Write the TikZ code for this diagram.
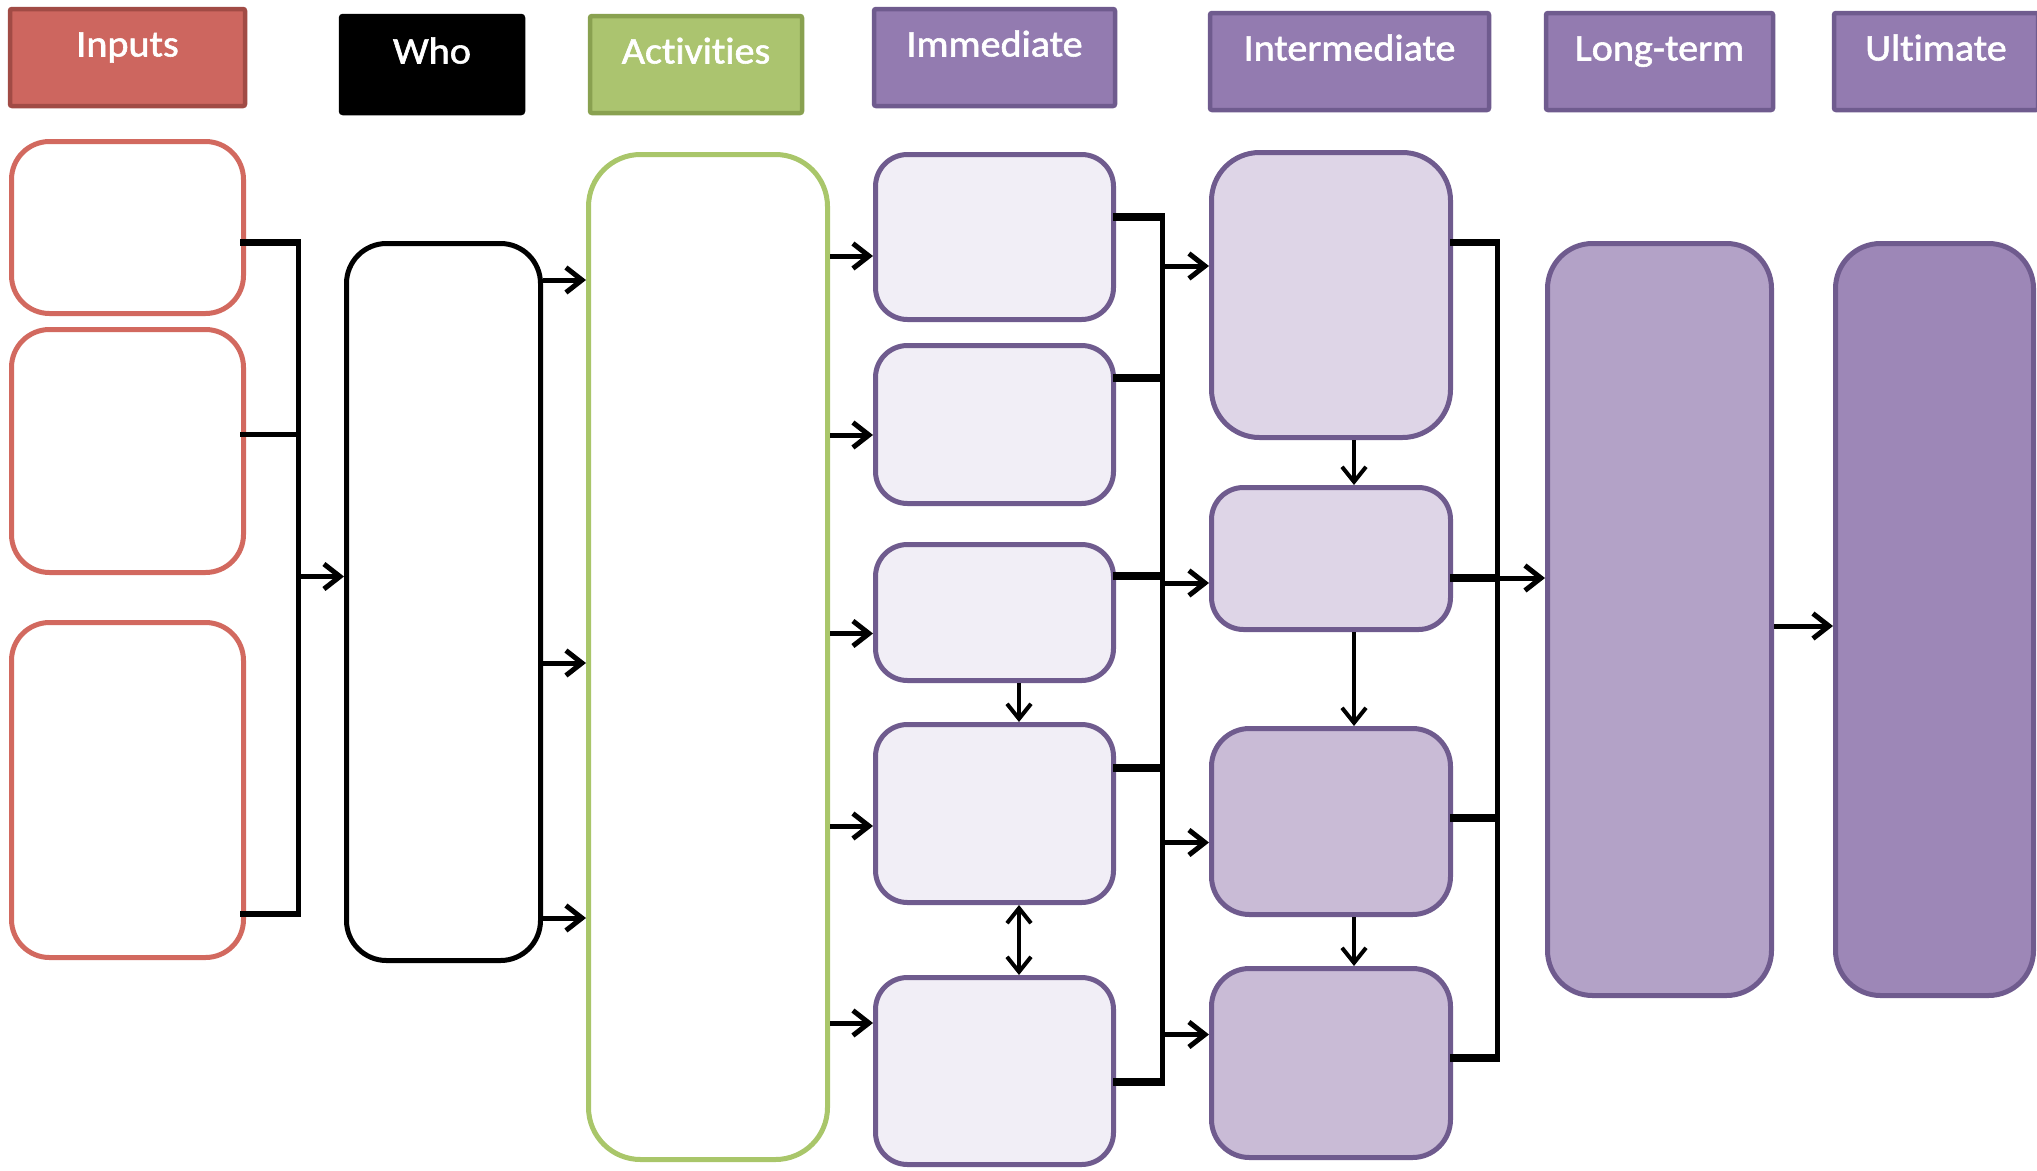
\documentclass[tikz,border=0pt]{standalone}
\usepackage{fontspec}
\setmainfont{Carlito}[Ligatures=NoCommon]
\newfontfamily\hdfont{Carlito}[Ligatures=NoCommon, FakeBold=1.5]
\usetikzlibrary{arrows.meta}
\definecolor{redfill}{HTML}{CD665F}
\definecolor{redline}{HTML}{A14B45}
\definecolor{redbox}{HTML}{D2695F}
\definecolor{grnfill}{HTML}{ABC46F}
\definecolor{grnline}{HTML}{89A150}
\definecolor{grnbox}{HTML}{A9C66A}
\definecolor{purfill}{HTML}{937BB0}
\definecolor{purline}{HTML}{6F5B8E}
\definecolor{immfill}{HTML}{F1EEF6}
\definecolor{intfillA}{HTML}{DED5E7}
\definecolor{intfillB}{HTML}{C9BBD6}
\definecolor{ltfill}{HTML}{B3A2C7}
\definecolor{ultfill}{HTML}{9D87B7}
\newcommand{\hdtext}[1]{\scalebox{1.07}[1]{#1}}
\tikzset{
  hdr/.style 2 args={draw=#1, fill=#2, line width=4.5pt, rounded corners=2pt,
    text=white, font=\hdfont\fontsize{37.5}{40}\selectfont, text height=24pt, text depth=26pt, inner sep=0pt},
  bx/.style={line width=5pt, rounded corners=#1, inner sep=0pt},
  bus/.style={line width=5pt},
  stub/.style={line width=#1},
  arr/.style={line width=5pt, -{Straight Barb[length=16pt,width=25pt]}},
  varr/.style={line width=4pt, -{Straight Barb[length=15pt,width=24pt]}},
  darr/.style={line width=4pt, {Straight Barb[length=15pt,width=24pt]}-{Straight Barb[length=15pt,width=24pt]}},
}
\begin{document}
\begin{tikzpicture}[x=1pt,y=-1pt]
\useasboundingbox (0,0) rectangle (2037,1170);

% headers
\node[hdr={redline}{redfill}, minimum width=235pt, minimum height=97pt] (hIn) at (127.5,57.5) {\hdtext{Inputs}};
\node[hdr={black}{black}, minimum width=182pt, minimum height=97pt] (hWho) at (432,64.5) {\hdtext{Who}};
\node[hdr={grnline}{grnfill}, minimum width=212pt, minimum height=97pt] (hAct) at (696,64.5) {\hdtext{Activities}};
\node[hdr={purline}{purfill}, minimum width=241pt, minimum height=97pt] (hImm) at (994.5,57.5) {\hdtext{Immediate}};
\node[hdr={purline}{purfill}, minimum width=279pt, minimum height=97pt] (hInt) at (1349.5,61.5) {\hdtext{Intermediate}};
\node[hdr={purline}{purfill}, minimum width=227pt, minimum height=97pt] (hLT) at (1659.5,61.5) {\hdtext{Long-term}};
\node[hdr={purline}{purfill}, minimum width=204pt, minimum height=97pt] (hUlt) at (1936,61.5) {\hdtext{Ultimate}};

% inputs
\node[bx=38pt, draw=redbox, fill=white, minimum width=232pt, minimum height=172pt] (in1) at (127.5,227.5) {};
\node[bx=38pt, draw=redbox, fill=white, minimum width=232pt, minimum height=243pt] (in2) at (127.5,451) {};
\node[bx=38pt, draw=redbox, fill=white, minimum width=232pt, minimum height=335pt] (in3) at (127.5,790) {};
% who
\node[bx=40pt, draw=black, fill=white, minimum width=194pt, minimum height=717pt] (who) at (443.5,602) {};
% activities
\node[bx=52pt, draw=grnbox, fill=white, minimum width=239pt, minimum height=1005pt] (act) at (708,657) {};
% immediate
\node[bx=32pt, draw=purline, fill=immfill, minimum width=238pt, minimum height=165pt] (imm1) at (994.5,237) {};
\node[bx=32pt, draw=purline, fill=immfill, minimum width=238pt, minimum height=158pt] (imm2) at (994.5,424.5) {};
\node[bx=32pt, draw=purline, fill=immfill, minimum width=238pt, minimum height=136pt] (imm3) at (994.5,612.5) {};
\node[bx=32pt, draw=purline, fill=immfill, minimum width=238pt, minimum height=178pt] (imm4) at (994.5,813.5) {};
\node[bx=32pt, draw=purline, fill=immfill, minimum width=238pt, minimum height=187pt] (imm5) at (994.5,1071) {};
% intermediate
\node[bx=48pt, draw=purline, fill=intfillA, minimum width=239pt, minimum height=285pt] (int1) at (1331,295) {};
\node[bx=32pt, draw=purline, fill=intfillA, minimum width=239pt, minimum height=142pt] (int2) at (1331,558.5) {};
\node[bx=38pt, draw=purline, fill=intfillB, minimum width=239pt, minimum height=186pt] (int3) at (1331,821.5) {};
\node[bx=38pt, draw=purline, fill=intfillB, minimum width=239pt, minimum height=189pt] (int4) at (1331,1063) {};
% long-term and ultimate
\node[bx=45pt, draw=purline, fill=ltfill, minimum width=224pt, minimum height=752pt] (lt) at (1659.5,619.5) {};
\node[bx=45pt, draw=purline, fill=ultfill, minimum width=198pt, minimum height=752pt] (ult) at (1934.5,619.5) {};

% input bus
\coordinate (ibT) at (298,242);
\coordinate (ibM) at (298,576.5);
\coordinate (ibB) at (298,914);
\draw[stub=7pt] ([xshift=-6pt]in1.east |- ibT) -- ([xshift=2.5pt]ibT);
\draw[stub=5pt] ([xshift=-6pt]in2.east |- 0,434) -- ([xshift=2.5pt]ibT |- 0,434);
\draw[stub=6pt] ([xshift=-6pt]in3.east |- ibB) -- ([xshift=2.5pt]ibB);
\draw[bus] (ibT) -- (ibB);
\draw[arr] (ibM) -- (ibM -| who.west);

% who -> activities
\draw[arr] (who.east |- 0,280) -- (act.west |- 0,280);
\draw[arr] (who.east |- 0,663) -- (act.west |- 0,663);
\draw[arr] (who.east |- 0,918) -- (act.west |- 0,918);

% activities -> immediate
\draw[arr] (act.east |- 0,256) -- (imm1.west |- 0,256);
\draw[arr] (act.east |- 0,435) -- (imm2.west |- 0,435);
\draw[arr] (act.east |- 0,633.5) -- (imm3.west |- 0,633.5);
\draw[arr] (act.east |- 0,826) -- (imm4.west |- 0,826);
\draw[arr] (act.east |- 0,1023) -- (imm5.west |- 0,1023);

% within immediate
\draw[varr] ([xshift=24.5pt]imm3.south) -- ([xshift=24.5pt]imm4.north);
\draw[darr] ([xshift=24.5pt]imm4.south) -- ([xshift=24.5pt]imm5.north);

% immediate bus
\coordinate (mbT) at (1162,217);
\coordinate (mbB) at (1162,1082);
\draw[stub=8pt] ([xshift=-3pt]imm1.east |- mbT) -- ([xshift=2.5pt]mbT);
\draw[stub=8pt] ([xshift=-3pt]imm2.east |- 0,378) -- ([xshift=2.5pt]mbT |- 0,378);
\draw[stub=8pt] ([xshift=-3pt]imm3.east |- 0,576) -- ([xshift=2.5pt]mbT |- 0,576);
\draw[stub=8pt] ([xshift=-3pt]imm4.east |- 0,768) -- ([xshift=2.5pt]mbT |- 0,768);
\draw[stub=8pt] ([xshift=-3pt]imm5.east |- mbB) -- ([xshift=2.5pt]mbB);
\draw[bus] (mbT) -- (mbB);
\draw[arr] (mbT |- 0,266) -- (int1.west |- 0,266);
\draw[arr] (mbT |- 0,583) -- (int2.west |- 0,583);
\draw[arr] (mbT |- 0,842.5) -- (int3.west |- 0,842.5);
\draw[arr] (mbT |- 0,1034.5) -- (int4.west |- 0,1034.5);

% within intermediate
\draw[varr] ([xshift=23pt]int1.south) -- ([xshift=23pt]int2.north);
\draw[varr] ([xshift=23pt]int2.south) -- ([xshift=23pt]int3.north);
\draw[varr] ([xshift=23pt]int3.south) -- ([xshift=23pt]int4.north);

% intermediate bus
\coordinate (nbT) at (1497,242.5);
\coordinate (nbB) at (1497,1058);
\draw[stub=6.5pt] ([xshift=-3pt]int1.east |- nbT) -- ([xshift=2.5pt]nbT);
\draw[stub=8pt] ([xshift=-3pt]int2.east |- 0,578) -- ([xshift=2.5pt]nbT |- 0,578);
\draw[stub=8pt] ([xshift=-3pt]int3.east |- 0,818) -- ([xshift=2.5pt]nbT |- 0,818);
\draw[stub=8pt] ([xshift=-3pt]int4.east |- nbB) -- ([xshift=2.5pt]nbB);
\draw[bus] (nbT) -- (nbB);
\draw[arr] (nbT |- 0,578) -- (lt.west |- 0,578);

% long-term -> ultimate
\draw[arr] (lt.east |- 0,626) -- (ult.west |- 0,626);
\end{tikzpicture}
\end{document}
